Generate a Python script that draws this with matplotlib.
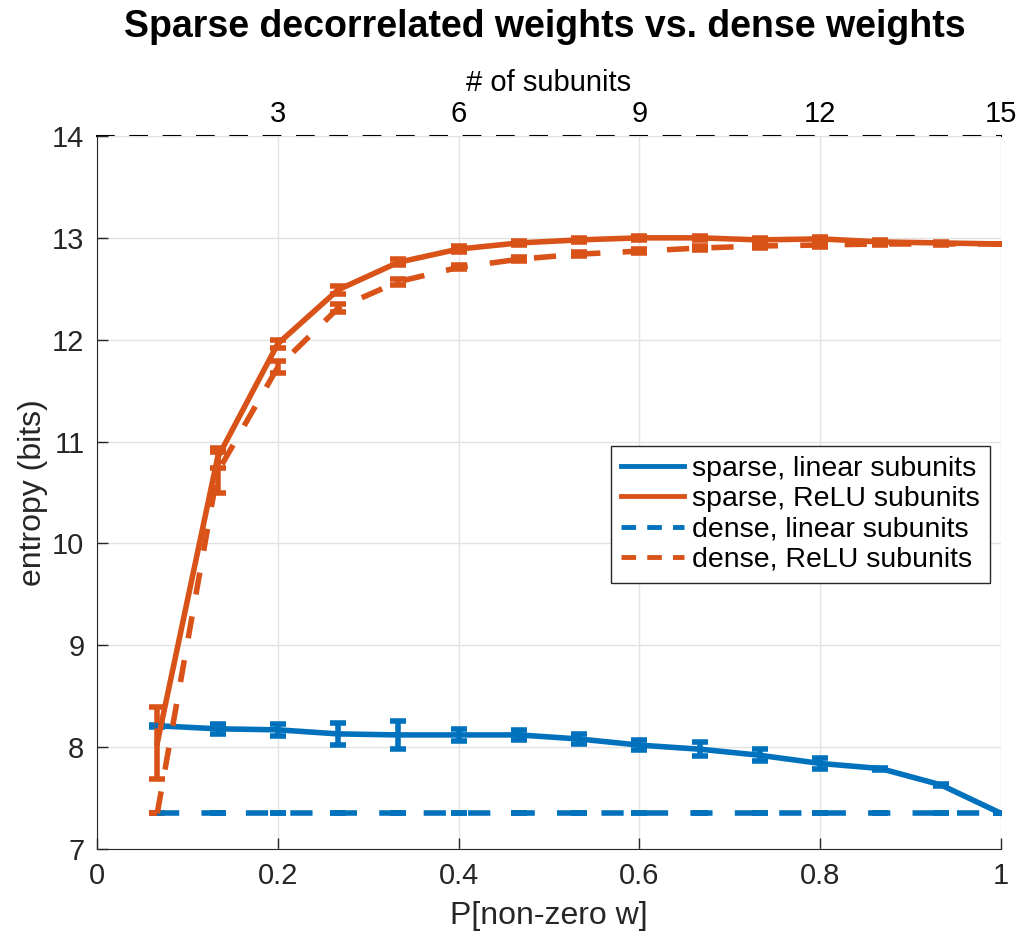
import numpy as np
from matplotlib import pyplot as plt
from matplotlib.lines import Line2D

plt.rcParams['font.family'] = ['Liberation Sans', 'DejaVu Sans']

blue = '#0072BD'
orange = '#D95319'

n_sub = np.arange(1, 16)
p_nonzero = n_sub / 15

sparse_lin = [8.21, 8.18, 8.17, 8.13, 8.12, 8.12, 8.12, 8.08, 8.02, 7.98, 7.92, 7.84, 7.79, 7.63, 7.35]
sparse_lin_err = [0.01, 0.05, 0.06, 0.11, 0.14, 0.06, 0.05, 0.05, 0.05, 0.07, 0.06, 0.05, 0.01, 0.01, 0.0]
sparse_relu = [8.04, 10.84, 11.96, 12.49, 12.76, 12.89, 12.95, 12.98, 13.00, 13.00, 12.98, 12.99, 12.96, 12.95, 12.94]
sparse_relu_err = [0.35, 0.1, 0.04, 0.04, 0.03, 0.03, 0.02, 0.02, 0.02, 0.02, 0.02, 0.02, 0.02, 0.01, 0.0]
dense_lin = [7.35] * 15
dense_lin_err = [0.0] * 15
dense_relu = [7.35, 10.7, 11.73, 12.31, 12.57, 12.71, 12.79, 12.84, 12.87, 12.90, 12.92, 12.93, 12.94, 12.94, 12.94]
dense_relu_err = [0.0, 0.2, 0.06, 0.04, 0.03, 0.02, 0.02, 0.02, 0.02, 0.02, 0.02, 0.02, 0.01, 0.01, 0.0]

labels = ['sparse, linear subunits', 'sparse, ReLU subunits',
          'dense, linear subunits', 'dense, ReLU subunits']

fig = plt.figure(figsize=(10.2, 9.34), dpi=100)
ax = fig.add_axes([97 / 1020, 1 - 849 / 934, 904 / 1020, 713 / 934])

lw = 4.0
kw = dict(lw=lw, capsize=6, capthick=lw, elinewidth=lw)
ax.errorbar(p_nonzero, sparse_lin, yerr=sparse_lin_err, color=blue, **kw)
ax.errorbar(p_nonzero, sparse_relu, yerr=sparse_relu_err, color=orange, **kw)
e3 = ax.errorbar(p_nonzero, dense_lin, yerr=dense_lin_err, color=blue, **kw)
e4 = ax.errorbar(p_nonzero, dense_relu, yerr=dense_relu_err, color=orange, **kw)
for e in (e3, e4):
    e[0].set_dashes((4, 4))

ax.set_xlim(0, 1)
ax.set_ylim(7, 14)
ax.set_xticks([0, 0.2, 0.4, 0.6, 0.8, 1])
ax.set_xticklabels(['0', '0.2', '0.4', '0.6', '0.8', '1'])
ax.set_yticks(range(7, 15))
ax.grid(True, color='#e3e3e3', lw=1)
ax.set_axisbelow(True)
ax.tick_params(direction='in', length=8, width=1, labelsize=21, colors='#262626', pad=9)
ax.spines['right'].set_visible(False)
ax.spines['top'].set_visible(False)
for s in ('left', 'bottom'):
    ax.spines[s].set_color('#262626')
ax.set_xlabel('P[non-zero w]', fontsize=23, color='#262626', labelpad=8)
ax.set_ylabel('entropy (bits)', fontsize=23, color='#262626', labelpad=3)

top = ax.secondary_xaxis('top', functions=(lambda x: x * 15, lambda x: x / 15))
top.set_xticks([3, 6, 9, 12, 15])
top.tick_params(length=0, labelsize=21, pad=6)
top.spines['top'].set_linestyle((0, (8, 8)))
top.spines['top'].set_linewidth(1.5)
top.set_xlabel('# of subunits', fontsize=21, labelpad=6)

handles = [Line2D([], [], color=blue, lw=3.5),
           Line2D([], [], color=orange, lw=3.5),
           Line2D([], [], color=blue, lw=3.5, dashes=(3, 2.3)),
           Line2D([], [], color=orange, lw=3.5, dashes=(3, 2.3))]
leg = ax.legend(handles, labels, loc='upper right', bbox_to_anchor=(0.988, 0.565), borderaxespad=0,
                fontsize=20.5, handlelength=2.2, handletextpad=0.3, labelspacing=0.15,
                fancybox=False, framealpha=1, edgecolor='#262626', borderpad=0.35)
leg.get_frame().set_linewidth(1)

fig.text(545 / 1020, 0.99, 'Sparse decorrelated weights vs. dense weights',
         fontsize=27, fontweight='bold', ha='center', va='top')

plt.savefig('out.png', dpi=100)
